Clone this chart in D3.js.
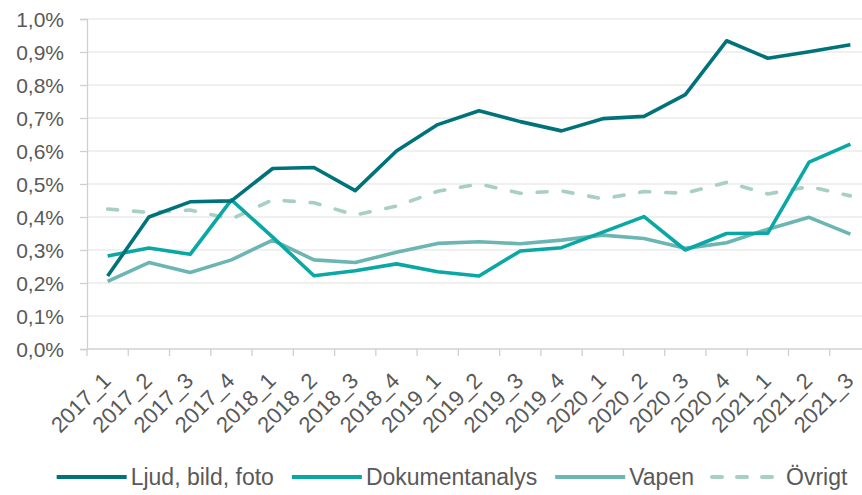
<!DOCTYPE html>
<html>
<head>
<meta charset="utf-8">
<script src="https://cdn.jsdelivr.net/npm/d3@7"></script>
<style>
  body { margin: 0; background: #fff; }
  text { font-family: "Liberation Sans", Arial, sans-serif; fill: #595959; }
</style>
</head>
<body>
<div id="chart"></div>
<script>
// Quarters on the x axis
let quarters = ['2017_1', '2017_2', '2017_3', '2017_4', '2018_1', '2018_2', '2018_3', '2018_4',
  '2019_1', '2019_2', '2019_3', '2019_4', '2020_1', '2020_2', '2020_3', '2020_4',
  '2021_1', '2021_2', '2021_3'];

// values in percent
let ljud = [0.221, 0.40, 0.446, 0.449, 0.547, 0.550, 0.48, 0.60, 0.68, 0.722, 0.689, 0.661,
  0.698, 0.705, 0.771, 0.934, 0.881, 0.901, 0.922];
let dokument = [0.282, 0.306, 0.287, 0.452, 0.339, 0.222, 0.237, 0.258, 0.234, 0.221, 0.297, 0.307,
  0.354, 0.401, 0.30, 0.350, 0.351, 0.566, 0.621];
let vapen = [0.205, 0.262, 0.232, 0.270, 0.330, 0.270, 0.262, 0.293, 0.320, 0.325, 0.319, 0.330,
  0.345, 0.335, 0.305, 0.322, 0.363, 0.399, 0.348];
let ovrigt = [0.424, 0.414, 0.421, 0.394, 0.452, 0.443, 0.406, 0.433, 0.478, 0.50, 0.472, 0.479,
  0.455, 0.477, 0.472, 0.505, 0.470, 0.492, 0.464];

let seriesNames = ['Ljud, bild, foto', 'Dokumentanalys', 'Vapen', 'Övrigt'];
let yTicks = [0, 0.1, 0.2, 0.3, 0.4, 0.5, 0.6, 0.7, 0.8, 0.9, 1.0];

let series = [
  { name: seriesNames[0], values: ljud, color: '#00737a', dash: null },
  { name: seriesNames[1], values: dokument, color: '#0aa8a4', dash: null },
  { name: seriesNames[2], values: vapen, color: '#6bb5b3', dash: null },
  { name: seriesNames[3], values: ovrigt, color: '#a7cfc4', dash: '10,16' }
];

let width = 862,
  height = 495;

let margin = { top: 19, bottom: 146, left: 87, right: -9 };

let svg = d3.select('#chart')
  .append('svg')
  .attr('width', width)
  .attr('height', height);

let sv = d3.formatLocale({ decimal: ',', thousands: ' ', grouping: [3], currency: ['', ' kr'] });
let fmt = sv.format('.1f');

// Scales
let xScale = d3.scaleBand()
  .domain(quarters)
  .range([margin.left, width - margin.right]);

let yScale = d3.scaleLinear()
  .domain([0, 1])
  .range([height - margin.bottom, margin.top]);

// gridlines
svg.append('g')
  .selectAll('line')
  .data(yTicks.slice(1))
  .enter()
  .append('line')
    .attr('x1', margin.left)
    .attr('x2', width - margin.right)
    .attr('y1', d => yScale(d))
    .attr('y2', d => yScale(d))
    .attr('stroke', '#ebebeb')
    .attr('stroke-width', 1.3);

// y axis
let yAxis = svg.append('g')
  .attr('transform', `translate(${margin.left},0)`)
  .call(d3.axisLeft(yScale).tickValues(yTicks).tickSize(7).tickPadding(16)
    .tickFormat(d => fmt(d) + '%'));
yAxis.select('.domain').attr('stroke', '#d0d0d0').attr('stroke-width', 1.3);
yAxis.selectAll('.tick line').attr('stroke', '#d0d0d0').attr('stroke-width', 1.3);
yAxis.selectAll('text').style('font-size', '21px').attr('fill', '#595959').attr('dy', '0.35em');

// x axis: tick marks at band edges
let edges = quarters.map(q => xScale(q)).concat([xScale.range()[1]]);
let xBase = height - margin.bottom;
svg.append('line')
  .attr('x1', margin.left).attr('x2', width - margin.right)
  .attr('y1', xBase).attr('y2', xBase)
  .attr('stroke', '#d0d0d0').attr('stroke-width', 1.3);
svg.append('g')
  .selectAll('line')
  .data(edges)
  .enter()
  .append('line')
    .attr('x1', d => d).attr('x2', d => d)
    .attr('y1', xBase).attr('y2', xBase + 7)
    .attr('stroke', '#d0d0d0').attr('stroke-width', 1.3);

let xAxis = svg.append('g')
  .attr('transform', `translate(0,${xBase})`)
  .call(d3.axisBottom(xScale).tickSize(0).tickPadding(0));
xAxis.select('.domain').remove();
xAxis.selectAll('text')
  .style('font-size', '22px')
  .attr('fill', '#595959')
  .style('text-anchor', 'end')
  .attr('dy', 0)
  .attr('y', 0)
  .attr('transform', 'translate(4.5,33) rotate(-45)');

// lines
let line = d3.line()
  .x((d, i) => xScale(quarters[i]) + xScale.bandwidth() / 2)
  .y(d => yScale(d));

svg.append('g')
  .selectAll('path')
  .data(series.slice().reverse())
  .enter()
  .append('path')
    .attr('d', d => line(d.values))
    .attr('fill', 'none')
    .attr('stroke', d => d.color)
    .attr('stroke-width', 3.6)
    .attr('stroke-linejoin', 'round')
    .attr('stroke-linecap', d => d.dash ? 'round' : 'butt')
    .attr('stroke-dasharray', d => d.dash);

// legend
let legend = svg.append('g').attr('transform', 'translate(0,477)');
let lx = 0;
let items = legend.selectAll('g')
  .data(series)
  .enter()
  .append('g');
items.append('line')
  .attr('x1', 0).attr('x2', 70).attr('y1', 0).attr('y2', 0)
  .attr('stroke', d => d.color)
  .attr('stroke-width', 4)
  .attr('stroke-linecap', d => d.dash ? 'round' : 'butt')
  .attr('stroke-dasharray', d => d.dash ? '10,15' : null);
items.append('text')
  .attr('x', 74)
  .attr('dy', '0.35em')
  .style('font-size', '23px')
  .text(d => d.name);
items.each(function() {
  let w = this.querySelector('text').getComputedTextLength();
  d3.select(this).attr('transform', `translate(${lx},0)`);
  lx += 74 + w + 18;
});
let total = lx - 18;
legend.attr('transform', `translate(${452 - total / 2},477)`);
</script>
</body>
</html>
